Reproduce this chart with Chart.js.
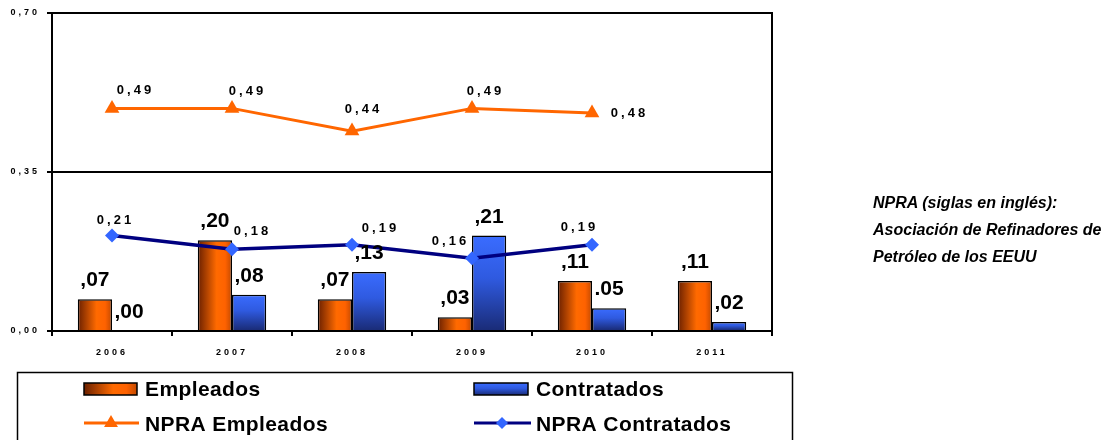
<!DOCTYPE html>
<html><head><meta charset="utf-8">
<script src="https://cdn.jsdelivr.net/npm/chart.js@4/dist/chart.umd.min.js"></script>
<style>
html,body{margin:0;padding:0;background:#fff;}
#wrap{position:relative;width:1104px;height:440px;overflow:hidden;}
canvas{position:absolute;left:0;top:0;}
#note{position:absolute;left:873px;top:189px;font:italic bold 16px "Liberation Sans",Arial,sans-serif;line-height:27px;color:#000;white-space:nowrap;}
</style></head>
<body><div id="wrap"><canvas id="c" width="1104" height="440"></canvas><div id="note">NPRA (siglas en inglés):<br>Asociación de Refinadores de<br>Petróleo de los EEUU</div></div>
<script>
const categories = ['2006','2007','2008','2009','2010','2011'];
const empleados = [0.07, 0.20, 0.07, 0.03, 0.11, 0.11];
const contratados = [0.00, 0.08, 0.13, 0.21, 0.05, 0.02];
const npraEmpleados = [0.49, 0.49, 0.44, 0.49, 0.48, null];
const npraContratados = [0.21, 0.18, 0.19, 0.16, 0.19, null];
const empleadosLabels = [',07', ',20', ',07', ',03', ',11', ',11'];
const contratadosLabels = [',00', ',08', ',13', ',21', '.05', ',02'];
const yTickValues = [0, 0.35, 0.70];

const FONT = '"Liberation Sans", Arial, sans-serif';
const ORANGE = '#ff6600', NAVY = '#000080', BLUE = '#3366ff';
const fmt = v => v.toFixed(2).replace('.', ',');

// label placement offsets (dx, dy) for line value labels
const labelOffsets = {
  2: [[22,-18],[14,-17],[10,-22],[12,-17],[36,0]],
  3: [[2,-15],[19,-18],[27,-16],[-23,-17],[-14,-17]]
};

function orangeGrad(ctx, x0, x1) {
  const g = ctx.createLinearGradient(x0, 0, x1, 0);
  g.addColorStop(0, '#6a2000'); g.addColorStop(0.55, '#ff6a00');
  g.addColorStop(0.8, '#ff6200'); g.addColorStop(1, '#c44a00');
  return g;
}
function blueGrad(ctx, y0, y1) {
  const g = ctx.createLinearGradient(0, y0, 0, y1);
  g.addColorStop(0, '#3a6cff'); g.addColorStop(0.45, '#2f5ae0'); g.addColorStop(1, '#1a2c78');
  return g;
}

function drawTriangle(ctx, x, y, r, color) {
  ctx.save(); ctx.fillStyle = color; ctx.beginPath();
  for (let k = 0; k < 3; k++) {
    const a = -Math.PI/2 + k * 2*Math.PI/3;
    const px = x + Math.cos(a)*r, py = y + Math.sin(a)*r;
    k ? ctx.lineTo(px, py) : ctx.moveTo(px, py);
  }
  ctx.closePath(); ctx.fill(); ctx.restore();
}
function drawDiamond(ctx, x, y, r, color) {
  ctx.save(); ctx.fillStyle = color; ctx.beginPath();
  ctx.moveTo(x - r, y); ctx.lineTo(x, y - r); ctx.lineTo(x + r, y); ctx.lineTo(x, y + r);
  ctx.closePath(); ctx.fill(); ctx.restore();
}

const custom = {
  id: 'custom',
  beforeDraw(chart) { chart.ctx.letterSpacing = '3px'; },
  beforeDatasetsDraw(chart) {
    const ctx = chart.ctx;
    ctx.letterSpacing = '0px';
    [0, 1].forEach(di => {
      chart.getDatasetMeta(di).data.forEach(el => {
        const bg = di === 0 ? orangeGrad(ctx, el.x - el.width/2, el.x + el.width/2)
                            : blueGrad(ctx, el.y, el.base);
        el.options = Object.assign({}, el.options, {backgroundColor: bg});
      });
    });
  },
  afterDatasetsDraw(chart) {
    const ctx = chart.ctx;
    ctx.save();
    ctx.fillStyle = '#000';
    ctx.textAlign = 'center';
    ctx.textBaseline = 'alphabetic';
    ctx.letterSpacing = '0px';
    ctx.font = 'bold 21px ' + FONT;
    [[0, empleadosLabels], [1, contratadosLabels]].forEach(([di, labels]) => {
      chart.getDatasetMeta(di).data.forEach((el, i) => ctx.fillText(labels[i], el.x, el.y - 13));
    });
    ctx.font = 'bold 13px ' + FONT;
    ctx.letterSpacing = '3px';
    ctx.textBaseline = 'middle';
    [2, 3].forEach(di => {
      const ds = chart.data.datasets[di];
      chart.getDatasetMeta(di).data.forEach((el, i) => {
        const v = ds.data[i]; if (v == null) return;
        const [dx, dy] = labelOffsets[di][i];
        ctx.fillText(fmt(v), el.x + dx + 1.5, el.y + dy);
      });
    });
    ctx.restore();
  },
  afterDraw(chart) {
    const ctx = chart.ctx, a = chart.chartArea;
    ctx.save();
    ctx.letterSpacing = '0px';
    ctx.strokeStyle = '#000';
    ctx.lineWidth = 2;
    ctx.beginPath(); ctx.moveTo(a.right, a.top - 1); ctx.lineTo(a.right, a.bottom + 5); ctx.stroke();
    // legend box
    ctx.lineWidth = 1.5;
    ctx.strokeRect(17.5, 372.5, 775, 90);
    const ds = chart.data.datasets;
    ctx.font = 'bold 21px ' + FONT;
    ctx.letterSpacing = '0.4px';
    ctx.textAlign = 'left';
    ctx.textBaseline = 'alphabetic';
    // row 1: bars
    ctx.fillStyle = orangeGrad(ctx, 84, 137);
    ctx.fillRect(84, 383, 53, 12);
    ctx.strokeRect(84, 383, 53, 12);
    ctx.fillStyle = blueGrad(ctx, 383, 395);
    ctx.fillRect(474, 383, 54, 12);
    ctx.strokeRect(474, 383, 54, 12);
    ctx.fillStyle = '#000';
    ctx.fillText(ds[0].label, 145, 396);
    ctx.fillText(ds[1].label, 536, 396);
    // row 2: lines
    ctx.lineWidth = 3;
    ctx.strokeStyle = ds[2].borderColor;
    ctx.beginPath(); ctx.moveTo(84, 423); ctx.lineTo(139, 423); ctx.stroke();
    drawTriangle(ctx, 111, 423, 8, ds[2].pointBackgroundColor);
    ctx.strokeStyle = ds[3].borderColor;
    ctx.beginPath(); ctx.moveTo(474, 423); ctx.lineTo(531, 423); ctx.stroke();
    drawDiamond(ctx, 502, 423, 6, ds[3].pointBackgroundColor);
    ctx.fillStyle = '#000';
    ctx.fillText(ds[2].label, 145, 431);
    ctx.fillText(ds[3].label, 536, 431);
    ctx.restore();
  }
};

const tickFont = {family: FONT, size: 9, weight: 'bold'};

new Chart(document.getElementById('c'), {
  data: {
    labels: categories,
    datasets: [
      {type: 'bar', label: 'Empleados', data: empleados, backgroundColor: ORANGE,
       borderColor: '#000', borderWidth: 1.5, categoryPercentage: 0.57, barPercentage: 1, order: 2},
      {type: 'bar', label: 'Contratados', data: contratados, backgroundColor: BLUE,
       borderColor: '#000', borderWidth: 1.5, categoryPercentage: 0.57, barPercentage: 1, order: 2},
      {type: 'line', label: 'NPRA Empleados', data: npraEmpleados, borderColor: ORANGE,
       backgroundColor: ORANGE, pointBackgroundColor: ORANGE, pointBorderColor: ORANGE, pointBorderWidth: 0,
       borderWidth: 3, pointStyle: 'triangle', pointRadius: 8.5, tension: 0, order: 1},
      {type: 'line', label: 'NPRA Contratados', data: npraContratados, borderColor: NAVY,
       backgroundColor: BLUE, pointBackgroundColor: BLUE, pointBorderColor: BLUE, pointBorderWidth: 0,
       borderWidth: 3.5, pointStyle: 'rectRot', pointRadius: 7, tension: 0, order: 1}
    ]
  },
  options: {
    responsive: false,
    animation: false,
    devicePixelRatio: 1,
    layout: {padding: {top: 13, right: 332, left: 0, bottom: 0}},
    plugins: {legend: {display: false}, tooltip: {enabled: false}},
    scales: {
      x: {
        offset: true,
        afterFit: s => { s.height = 109; },
        border: {display: true, color: '#000', width: 2},
        grid: {offset: true, drawOnChartArea: false, color: '#000', lineWidth: 2, tickLength: 5},
        ticks: {font: tickFont, color: '#000', padding: 11, maxRotation: 0}
      },
      y: {
        min: 0, max: 0.7,
        afterBuildTicks: s => { s.ticks = yTickValues.map(v => ({value: v})); },
        afterFit: s => { s.width = 52; },
        border: {display: true, color: '#000', width: 2},
        grid: {color: '#000', lineWidth: 2, tickLength: 5},
        ticks: {callback: v => fmt(v), font: tickFont, color: '#000', padding: 7}
      }
    }
  },
  plugins: [custom]
});
</script>
</body></html>
